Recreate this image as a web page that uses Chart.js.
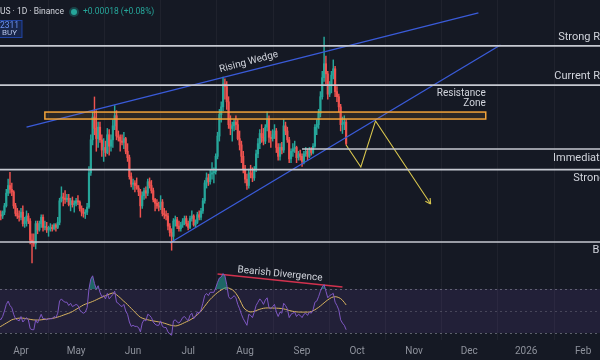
<!DOCTYPE html>
<html><head><meta charset="utf-8">
<script src="https://cdn.jsdelivr.net/npm/chart.js@4.4.1/dist/chart.umd.min.js"></script>
<style>html,body{margin:0;padding:0;background:#151924;}canvas{display:block;}</style>
</head><body>
<canvas id="c" width="600" height="360"></canvas>
<script>
// ---------- DATA (DOGE/USDT daily) ----------
const firstDate = '2025-03-20';
const opens = [
.1700,.1670,.1660,.1690,.1740,.1840,.1900,.1870,.1850,.1740,.1680,.1660,
.1650,.1690,.1600,.1620,.1660,.1620,.1470,.1450,.1440,.1600,.1550,.1600,.1650,.1570,.1570,.1550,.1560,.1570,.1560,.1590,.1570,.1610,.1780,.1810,.1800,.1790,.1800,.1750,.1780,.1750,
.1760,.1780,.1770,.1720,.1690,.1680,.1690,.1730,.2000,.2260,.2440,.2350,.2270,.2360,.2260,.2180,.2200,.2160,.2300,.2210,.2260,.2370,.2450,.2290,.2280,.2250,.2240,.2270,.2170,.2120,.1970,
.1910,.1920,.1900,.1880,.1850,.1740,.1820,.1860,.1840,.1930,.1900,.1860,.1790,.1760,.1740,.1730,.1770,.1680,.1670,.1660,.1580,.1530,.1500,.1620,.1630,.1580,.1560,.1590,.1620,.1640,
.1600,.1570,.1640,.1660,.1590,.1610,.1670,.1650,.1700,.1780,.1920,.1960,.1930,.1990,.2000,.2010,.2130,.2290,.2460,.2520,.2700,.2680,.2560,.2380,.2350,.2370,.2400,.2380,.2270,.2220,.2130,
.2030,.1950,.1900,.2000,.1990,.1960,.2030,.2150,.2230,.2310,.2280,.2250,.2360,.2420,.2280,.2270,.2300,.2330,.2200,.2130,.2200,.2180,.2370,.2330,.2260,.2110,.2170,.2190,.2200,.2120,.2150,
.2130,.2090,.2150,.2170,.2130,.2180,.2160,.2210,.2360,.2380,.2470,.2600,.2750,.2860,.2780,.2620,.2690,.2770,.2820,.2640,.2600,.2520,.2380,.2390,.2400];
const highs = [
.1730,.1700,.1700,.1760,.1870,.1950,.2005,.1920,.1860,.1760,.1720,.1700,
.1720,.1740,.1650,.1700,.1680,.1640,.1520,.1520,.1620,.1620,.1620,.1670,.1670,.1620,.1610,.1580,.1600,.1590,.1600,.1600,.1650,.1800,.1890,.1840,.1860,.1830,.1830,.1800,.1810,.1780,
.1800,.1820,.1780,.1740,.1720,.1710,.1760,.2050,.2300,.2480,.2598,.2490,.2400,.2400,.2300,.2270,.2250,.2350,.2340,.2300,.2420,.2530,.2490,.2330,.2300,.2300,.2320,.2280,.2230,.2140,.2000,
.1950,.1940,.1960,.1900,.1870,.1850,.1880,.1890,.1950,.1960,.1940,.1880,.1800,.1790,.1770,.1820,.1790,.1720,.1700,.1680,.1600,.1560,.1640,.1660,.1650,.1620,.1610,.1640,.1660,.1660,
.1620,.1660,.1700,.1670,.1630,.1690,.1700,.1720,.1800,.1940,.2000,.1990,.2020,.2080,.2040,.2150,.2320,.2500,.2560,.2755,.2740,.2720,.2600,.2450,.2400,.2420,.2450,.2420,.2330,.2250,.2170,
.2060,.1990,.2030,.2060,.2040,.2050,.2180,.2270,.2340,.2380,.2350,.2380,.2480,.2450,.2330,.2340,.2380,.2350,.2230,.2230,.2240,.2420,.2400,.2360,.2280,.2190,.2230,.2250,.2210,.2170,.2180,
.2150,.2170,.2200,.2190,.2200,.2200,.2230,.2380,.2420,.2500,.2640,.2800,.3070,.2920,.2800,.2720,.2800,.2890,.2840,.2680,.2620,.2540,.2440,.2450,.2420];
const lows = [
.1650,.1630,.1640,.1670,.1730,.1820,.1840,.1820,.1720,.1660,.1640,.1620,
.1630,.1580,.1570,.1580,.1600,.1440,.1290,.1420,.1400,.1520,.1540,.1570,.1540,.1550,.1530,.1500,.1540,.1540,.1550,.1540,.1560,.1590,.1770,.1740,.1760,.1770,.1740,.1700,.1730,.1690,
.1740,.1750,.1700,.1660,.1650,.1640,.1670,.1720,.1980,.2220,.2300,.2170,.2200,.2240,.2130,.2090,.2130,.2150,.2140,.2170,.2200,.2340,.2260,.2250,.2170,.2220,.2190,.2150,.2090,.1950,.1890,
.1870,.1850,.1870,.1820,.1650,.1720,.1790,.1800,.1820,.1880,.1840,.1770,.1700,.1720,.1700,.1710,.1660,.1640,.1630,.1550,.1500,.1390,.1460,.1580,.1560,.1540,.1540,.1570,.1590,.1580,
.1550,.1560,.1620,.1580,.1570,.1600,.1630,.1630,.1680,.1760,.1880,.1900,.1910,.1950,.1920,.1990,.2110,.2250,.2400,.2490,.2580,.2500,.2350,.2300,.2250,.2330,.2340,.2260,.2180,.2080,.2000,
.1920,.1870,.1880,.1960,.1930,.1940,.2010,.2120,.2190,.2240,.2220,.2230,.2330,.2240,.2200,.2250,.2270,.2160,.2100,.2100,.2150,.2160,.2300,.2240,.2080,.2080,.2130,.2160,.2080,.2100,.2100,
.2050,.2070,.2130,.2100,.2120,.2140,.2150,.2200,.2300,.2350,.2440,.2580,.2720,.2700,.2580,.2600,.2630,.2740,.2600,.2560,.2480,.2330,.2310,.2340,.2220];
const closes = [
.1670,.1660,.1690,.1740,.1840,.1900,.1870,.1850,.1740,.1680,.1660,.1650,
.1690,.1600,.1620,.1660,.1620,.1470,.1450,.1440,.1600,.1550,.1600,.1650,.1570,.1570,.1550,.1560,.1570,.1560,.1590,.1570,.1610,.1780,.1810,.1800,.1790,.1800,.1750,.1780,.1750,.1760,
.1780,.1770,.1720,.1690,.1680,.1690,.1730,.2000,.2260,.2440,.2350,.2270,.2360,.2260,.2180,.2200,.2160,.2300,.2210,.2260,.2370,.2450,.2290,.2280,.2250,.2240,.2270,.2170,.2120,.1970,.1910,
.1920,.1900,.1880,.1850,.1740,.1820,.1860,.1840,.1930,.1900,.1860,.1790,.1760,.1740,.1730,.1770,.1680,.1670,.1660,.1580,.1530,.1500,.1620,.1630,.1580,.1560,.1590,.1620,.1640,.1600,
.1570,.1640,.1660,.1590,.1610,.1670,.1650,.1700,.1780,.1920,.1960,.1930,.1990,.2000,.2010,.2130,.2290,.2460,.2520,.2700,.2680,.2560,.2380,.2350,.2370,.2400,.2380,.2270,.2220,.2130,.2030,
.1950,.1900,.2000,.1990,.1960,.2030,.2150,.2230,.2310,.2280,.2250,.2360,.2420,.2280,.2270,.2300,.2330,.2200,.2130,.2200,.2180,.2370,.2330,.2260,.2110,.2170,.2190,.2200,.2120,.2150,.2130,
.2090,.2150,.2170,.2130,.2180,.2160,.2210,.2360,.2380,.2470,.2600,.2750,.2860,.2780,.2620,.2690,.2770,.2820,.2640,.2600,.2520,.2380,.2390,.2400,.2231];
const rsiValues = [
44,42,45,50,56,59,55,53,47,43,42,41,
45,40,42,44,42,34,33,33,42,39,43,47,43,43,42,43,43,43,45,44,48,59,61,59,58,58,55,57,54,55,
56,55,51,49,48,49,53,70,79,82,75,70,73,67,63,64,61,66,61,63,65,68,58,57,55,54,56,50,47,40,36,
37,36,36,35,31,39,42,41,47,46,44,40,38,37,37,41,36,35,35,31,29,28,41,42,40,39,41,44,45,43,
41,46,48,43,45,49,48,51,57,64,66,64,67,67,67,71,76,80,81,84,82,74,63,61,62,64,62,56,52,47,43,
40,37,47,46,44,49,55,58,61,59,56,60,62,53,52,54,56,49,45,49,48,57,55,52,44,47,48,49,45,47,46,
44,47,48,46,49,48,51,58,59,63,68,72,74,68,62,64,65,66,58,55,51,42,39,37,33];
const rsiMA = [
35,36,37,38,39,40,41,42,42.5,43,43.3,43.5,
43.6,43.5,43.3,43,42.7,42.4,42.1,41.9,41.8,41.8,41.8,42,42.2,42.4,42.6,42.9,43.1,43.3,43.6,44,44.5,45,45.6,46.2,46.8,47.4,48,48.6,49.5,50.5,
51.5,52.5,53.5,54.5,55.5,56.2,56.8,57.4,58,58.7,59.4,60.2,61,61.8,62.5,63.2,63.9,64.6,65.3,65.9,66.4,66,64.8,63.4,62,60.4,58.8,57.4,55.8,54.1,52.4,
50.7,49,47.3,45.6,44.3,43.5,42.9,42.4,42,41.6,41.3,41,40.7,40.4,40.1,39.8,39.4,38.9,38.4,37.8,37.3,36.9,36.6,36.4,36.6,37.2,37.8,38.6,39.4,40.2,
41,41.8,42.8,43.9,45.2,46.6,48.2,50,52.1,54.3,56.5,58.6,60.6,62.3,63.9,65.4,66.8,68,69.1,70.1,70.9,71.1,70.9,70.3,69.4,68,66,63.5,60.5,57,53.6,
51.6,50.4,49.5,49.1,49.3,49.8,50.4,51,51.6,52.1,52.5,52.7,52.8,52.8,52.7,52.7,52.6,52.6,52.5,52.4,52.2,51.9,51.5,51,50.5,50.1,49.7,49.4,49.2,49.1,49,
49,49,49,49,49.1,49.5,50.2,51.1,52.2,53.3,54.6,56,57.4,58.8,60.1,61.2,62.2,62.8,63,62.8,62.2,61.3,59.8,57.8,55.5];
const monthTickDates = ['2025-04-01','2025-05-01','2025-06-01','2025-07-01','2025-08-01','2025-09-01','2025-10-01','2025-11-01','2025-12-01','2026-01-01','2026-02-01'];
const monthTickLabels = ['Apr','May','Jun','Jul','Aug','Sep','Oct','Nov','Dec','2026','Feb'];
const levelNames  = ['Strong Resistance','Current Resistance','Immediate Support','Strong Support','Breakdown'];
const levelPrices = [0.3000, 0.2692, 0.2188, 0.2026, 0.1455];
const levelStarts = [null, null, '2025-09-01', null, null];
const zoneDates  = ['2025-04-14', '2025-12-10'];
const zonePrices = [0.2424, 0.2479];
const wedgeUpperDates = ['2025-04-04', '2025-12-06'];
const wedgeUpperPrices = [0.2361, 0.3260];
const wedgeLowerDates = ['2025-06-21', '2025-12-18'];
const wedgeLowerPrices = [0.1447, 0.3007];
const projDates  = ['2025-09-25', '2025-10-03', '2025-10-11', '2025-11-10'];
const projPrices = [0.2219, 0.2046, 0.2409, 0.1755];
const divergenceDates = ['2025-07-17', '2025-09-23'];
const divergenceRsi   = [83.6, 71.8];

// ---------- helpers ----------
const DAY = 86400000, BASE = Date.UTC(2025, 3, 1);
const dayOf = s => Math.round((Date.parse(s + 'T00:00:00Z') - BASE) / DAY);
const start = dayOf(firstDate);
const days = closes.map((_, i) => start + i);
const tickDays = monthTickDates.map(dayOf);

const BG = '#151924', UP = '#26a69a', DOWN = '#ef5350';
const LEVEL = '#c6c9d1', BLUE = '#3a5bd9', YEL = '#d8c64e', ORANGE = '#f2a33a';
const FONT = 'Roboto, "Open Sans", sans-serif';
const X_MIN = -11.43, X_MAX = 315.2;

const candleColors = closes.map((c, i) => c >= opens[i] ? UP : DOWN);

const lineDs = (pts, axis, color, width, extra) => Object.assign({
  type: 'line', data: pts, yAxisID: axis, borderColor: color, borderWidth: width,
  pointRadius: 0, fill: false, tension: 0, order: 1
}, extra || {});

const datasets = [
  { type: 'bar', label: 'wick', data: days.map((d, i) => ({ x: d, y: [lows[i], highs[i]] })),
    backgroundColor: candleColors, barThickness: 0.8, grouped: false, yAxisID: 'y', order: 10 },
  { type: 'bar', label: 'body', data: days.map((d, i) => ({ x: d, y: [opens[i], closes[i]] })),
    backgroundColor: candleColors, barThickness: 1.5, minBarLength: 1, grouped: false, yAxisID: 'y', order: 9 }
];
levelPrices.forEach((p, i) => {
  const x0 = levelStarts[i] ? dayOf(levelStarts[i]) : X_MIN - 5;
  datasets.push(lineDs([{ x: x0, y: p }, { x: X_MAX + 5, y: p }], 'y', LEVEL, 1.7));
});
datasets.push(lineDs(wedgeUpperDates.map((s, i) => ({ x: dayOf(s), y: wedgeUpperPrices[i] })), 'y', BLUE, 1.3));
datasets.push(lineDs(wedgeLowerDates.map((s, i) => ({ x: dayOf(s), y: wedgeLowerPrices[i] })), 'y', BLUE, 1.3));
datasets.push(lineDs(projDates.map((s, i) => ({ x: dayOf(s), y: projPrices[i] })), 'y', YEL, 1.1));
datasets.push(lineDs(days.map((d, i) => ({ x: d, y: rsiValues[i] })), 'yRsi', '#7e57c2', 1,
  { fill: { target: { value: 70 }, above: 'rgba(38,166,154,0.55)', below: 'rgba(0,0,0,0)' } }));
datasets.push(lineDs(days.map((d, i) => ({ x: d, y: rsiMA[i] })), 'yRsi', '#d9b45f', 1));
datasets.push(lineDs(divergenceDates.map((s, i) => ({ x: dayOf(s), y: divergenceRsi[i] })), 'yRsi', '#d2324e', 1.5));

function txt(ctx, s, x, y, opt) {
  ctx.save();
  ctx.font = (opt.weight || '') + ' ' + opt.size + 'px ' + FONT;
  ctx.fillStyle = opt.color || '#d1d4dc';
  ctx.textAlign = opt.align || 'left';
  ctx.textBaseline = 'middle';
  ctx.translate(x, y);
  if (opt.rot) ctx.rotate(opt.rot * Math.PI / 180);
  ctx.fillText(s, 0, 0);
  ctx.restore();
}

const decor = {
  id: 'decor',
  beforeDraw(chart) {
    const { ctx, width, height } = chart;
    ctx.save(); ctx.fillStyle = BG; ctx.fillRect(0, 0, width, height); ctx.restore();
  },
  beforeDatasetsDraw(chart) {
    const { ctx, chartArea: a, scales } = chart;
    const r = scales.yRsi;
    ctx.save();
    const y70 = r.getPixelForValue(70), y30 = r.getPixelForValue(30), y50 = r.getPixelForValue(50);
    ctx.fillStyle = 'rgba(126,87,194,0.13)';
    ctx.fillRect(a.left, y70, a.width, y30 - y70);
    ctx.setLineDash([2, 3]); ctx.lineWidth = 1;
    [[y70, 'rgba(140,143,154,0.6)'], [y50, 'rgba(140,143,154,0.35)'], [y30, 'rgba(140,143,154,0.6)']].forEach(([yy, c]) => {
      ctx.strokeStyle = c; ctx.beginPath(); ctx.moveTo(a.left, Math.round(yy) + 0.5); ctx.lineTo(a.right, Math.round(yy) + 0.5); ctx.stroke();
    });
    ctx.restore();
  },
  afterDatasetsDraw(chart) {
    const { ctx, scales } = chart;
    const x = scales.x, y = scales.y, r = scales.yRsi;
    // resistance zone
    const zx0 = x.getPixelForValue(dayOf(zoneDates[0])), zx1 = x.getPixelForValue(dayOf(zoneDates[1]));
    const zy0 = y.getPixelForValue(zonePrices[1]), zy1 = y.getPixelForValue(zonePrices[0]);
    ctx.save();
    ctx.fillStyle = 'rgba(242,163,58,0.10)'; ctx.fillRect(zx0, zy0, zx1 - zx0, zy1 - zy0);
    ctx.strokeStyle = ORANGE; ctx.lineWidth = 1.5; ctx.strokeRect(zx0, zy0, zx1 - zx0, zy1 - zy0);
    ctx.restore();
    // projection arrowhead
    const n = projDates.length;
    const px1 = x.getPixelForValue(dayOf(projDates[n - 1])), py1 = y.getPixelForValue(projPrices[n - 1]);
    const px0 = x.getPixelForValue(dayOf(projDates[n - 2])), py0 = y.getPixelForValue(projPrices[n - 2]);
    const ang = Math.atan2(py1 - py0, px1 - px0);
    ctx.save(); ctx.strokeStyle = YEL; ctx.lineWidth = 1.1; ctx.beginPath();
    [-0.5, 0.5].forEach(da => { ctx.moveTo(px1, py1); ctx.lineTo(px1 - 6 * Math.cos(ang + da), py1 - 6 * Math.sin(ang + da)); });
    ctx.stroke(); ctx.restore();
    // level labels (right aligned under the hidden price scale)
    const rightEdge = x.getPixelForValue(340.8);
    const offs = [-9, -9, 9, 9, 8];
    levelNames.forEach((s, i) => txt(ctx, s, rightEdge, y.getPixelForValue(levelPrices[i]) + offs[i], { size: 11, align: 'right' }));
    // zone label
    txt(ctx, 'Resistance', zx1, zy0 - 19, { size: 10, align: 'right' });
    txt(ctx, 'Zone', zx1, zy0 - 9, { size: 10, align: 'right' });
    // wedge label
    txt(ctx, 'Rising Wedge', x.getPixelForValue(dayOf('2025-08-03')), y.getPixelForValue(0.2873), { size: 10, align: 'center', rot: -15 });
    // divergence label
    txt(ctx, 'Bearish Divergence', x.getPixelForValue(dayOf('2025-08-20')), r.getPixelForValue(83.6), { size: 10, align: 'center', rot: 5.6 });
    // header
    txt(ctx, 'Dogecoin / TetherUS · 1D · Binance', 64, 12, { size: 8.5, align: 'right' });
    ctx.save(); ctx.fillStyle = 'rgba(38,166,154,0.3)'; ctx.beginPath(); ctx.arc(74, 12, 5, 0, 7); ctx.fill();
    ctx.fillStyle = '#26a69a'; ctx.beginPath(); ctx.arc(74, 12, 3, 0, 7); ctx.fill(); ctx.restore();
    txt(ctx, '+0.00018 (+0.08%)', 83, 12, { size: 8.5, color: '#26a69a' });
    ctx.save(); ctx.fillStyle = 'rgba(41,98,255,0.18)'; ctx.strokeStyle = 'rgba(41,98,255,0.55)'; ctx.lineWidth = 1;
    ctx.fillRect(-10, 20.5, 32, 17); ctx.strokeRect(-10, 20.5, 32, 17); ctx.restore();
    txt(ctx, '0.22311', 19, 25.5, { size: 8.5, align: 'right', color: '#6b93f5' });
    txt(ctx, 'BUY', 17, 32.5, { size: 8, align: 'right', color: '#b5c3e8' });
  }
};

new Chart(document.getElementById('c'), {
  type: 'bar',
  data: { datasets },
  options: {
    responsive: false, animation: false, devicePixelRatio: 1,
    layout: { padding: 0 },
    plugins: { legend: { display: false }, tooltip: { enabled: false } },
    scales: {
      x: {
        type: 'linear', min: X_MIN, max: X_MAX, offset: false,
        grid: { color: 'rgba(255,255,255,0.045)', drawTicks: false },
        border: { display: false },
        afterBuildTicks: s => { s.ticks = tickDays.map(v => ({ value: v })); },
        afterFit: s => { s.height = 20; },
        ticks: {
          autoSkip: false, maxRotation: 0, padding: 5, color: '#8e929c',
          font: { family: FONT, size: 10 },
          callback: v => monthTickLabels[tickDays.indexOf(v)]
        }
      },
      y: { type: 'linear', axis: 'y', display: false, min: 0.06828, max: 0.3362 },
      yRsi: { type: 'linear', axis: 'y', display: false, min: 23.64, max: 332.73 }
    }
  },
  plugins: [decor]
});
</script>
</body></html>
